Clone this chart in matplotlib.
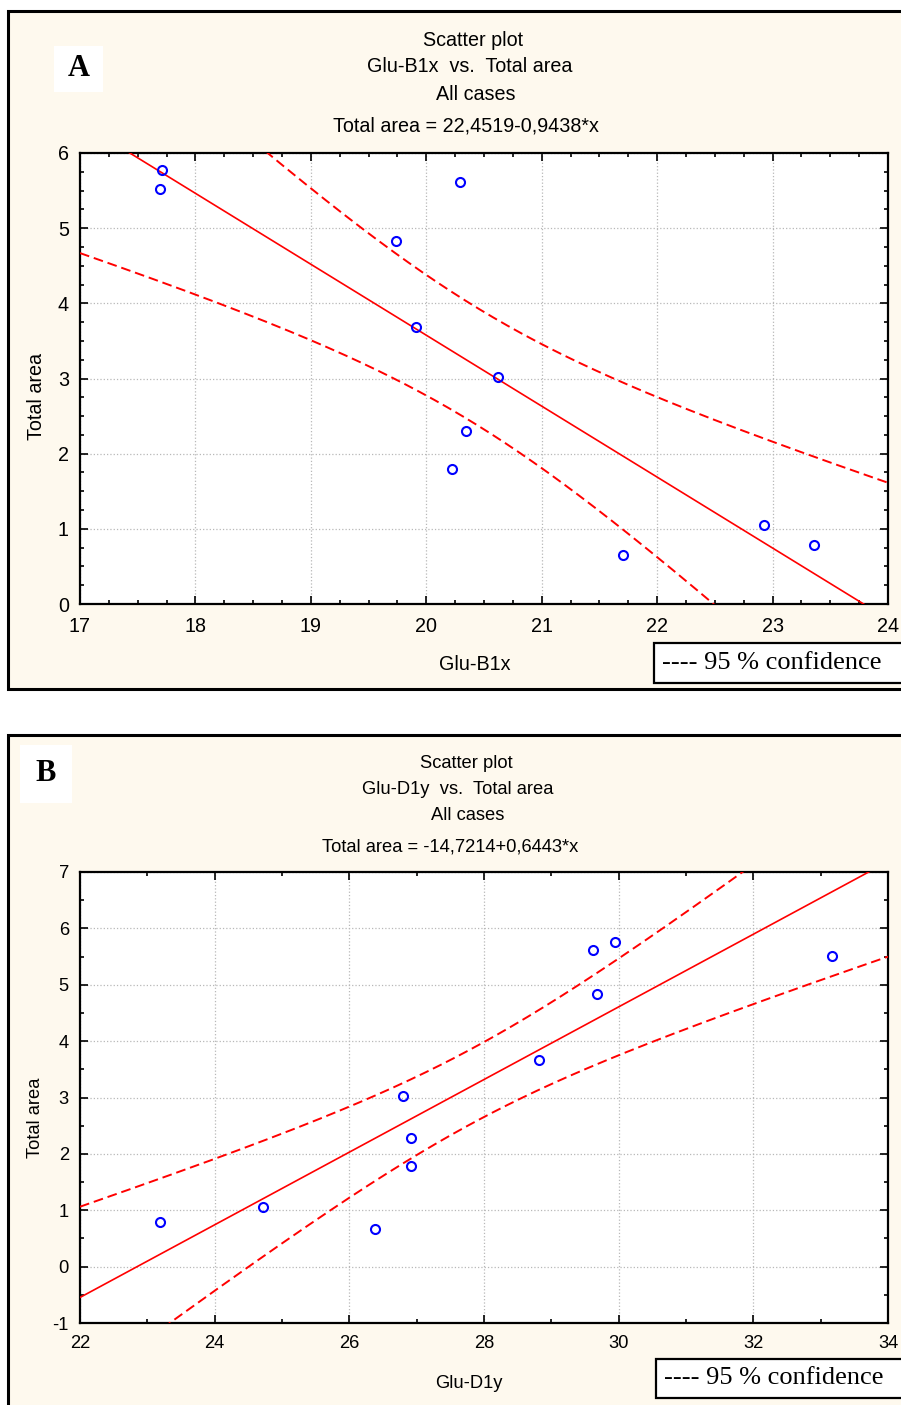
import numpy as np
import matplotlib
matplotlib.use("Agg")
import matplotlib.pyplot as plt
from matplotlib.patches import Rectangle
from matplotlib.ticker import MultipleLocator

plt.rcParams["axes.unicode_minus"] = False

# ---------------- data ----------------
a_x = [17.71, 17.69, 20.29, 19.74, 19.91, 20.62, 20.34, 20.22, 21.70, 22.93, 23.36]
a_y = [5.78, 5.52, 5.62, 4.83, 3.68, 3.02, 2.30, 1.80, 0.65, 1.05, 0.78]
a_coef = [22.4519, -0.9438]          # intercept, slope
a_xticks = [17, 18, 19, 20, 21, 22, 23, 24]
a_yticks = [0, 1, 2, 3, 4, 5, 6]
a_titles = ["Scatter plot", "Glu-B1x  vs.  Total area", "All cases",
            "Total area = 22,4519-0,9438*x"]
a_xlabel = "Glu-B1x"

b_x = [23.19, 24.72, 26.38, 26.80, 26.92, 26.92, 28.82, 29.62, 29.95, 29.68, 33.17]
b_y = [0.80, 1.05, 0.66, 3.03, 2.29, 1.79, 3.67, 5.62, 5.76, 4.84, 5.51]
b_coef = [-14.7214, 0.6443]
b_xticks = [22, 24, 26, 28, 30, 32, 34]
b_yticks = [-1, 0, 1, 2, 3, 4, 5, 6, 7]
b_titles = ["Scatter plot", "Glu-D1y  vs.  Total area", "All cases",
            "Total area = -14,7214+0,6443*x"]
b_xlabel = "Glu-D1y"

ylabel = "Total area"
legend_text = "---- 95 % confidence"
T975_DF9 = 2.262157

W, H = 901, 1405
SANS = ["Liberation Sans", "DejaVu Sans"]
SERIF = ["Liberation Serif", "DejaVu Serif"]
CREAM = "#fef9ee"

fig = plt.figure(figsize=(W / 100, H / 100), dpi=100)
fig.patch.set_facecolor("white")


def fx(x):
    return x / W


def fy(y):
    return 1 - y / H


def frame(x0, y0, x1, y1):
    fig.patches.append(Rectangle((fx(x0), fy(y1)), fx(x1) - fx(x0), fy(y0) - fy(y1),
                                 transform=fig.transFigure, facecolor=CREAM,
                                 edgecolor="black", linewidth=2.2, zorder=-2))


def panel(xs, ys, coef, xticks, yticks, xminor, yminor, titles, title_pos,
          ax_top, xlabel, xlab_pos, ylab_pos, letter, letter_box, legend_box, FS):
    lx0, ly0, lx1, ly1 = letter_box
    fig.patches.append(Rectangle((fx(lx0), fy(ly1)), fx(lx1) - fx(lx0), fy(ly0) - fy(ly1),
                                 transform=fig.transFigure, facecolor="white",
                                 edgecolor="none", zorder=-1))
    fig.text(fx((lx0 + lx1) / 2), fy((ly0 + ly1) / 2), letter, ha="center", va="center",
             fontsize=22, fontweight="bold", family=SERIF)
    for t, (tx, ty) in zip(titles, title_pos):
        fig.text(fx(tx), fy(ty), t, ha="center", va="center", fontsize=FS, family=SANS)

    ax = fig.add_axes([fx(80), fy(ax_top + 451), fx(888) - fx(80), 451 / H])
    ax.set_facecolor("white")
    xs = np.array(xs)
    ys = np.array(ys)
    b0, b1 = coef
    n = len(xs)
    resid = ys - (b0 + b1 * xs)
    s = np.sqrt(np.sum(resid ** 2) / (n - 2))
    xm = xs.mean()
    sxx = np.sum((xs - xm) ** 2)
    xx = np.linspace(xticks[0], xticks[-1], 400)
    yy = b0 + b1 * xx
    hw = T975_DF9 * s * np.sqrt(1 / n + (xx - xm) ** 2 / sxx)
    ax.plot(xx, yy, color="red", lw=1.2, zorder=3)
    ax.plot(xx, yy + hw, color="red", lw=1.4, ls=(0, (5, 2.5)), zorder=3)
    ax.plot(xx, yy - hw, color="red", lw=1.4, ls=(0, (5, 2.5)), zorder=3)
    ax.plot(xs, ys, "o", mfc="none", mec="#0000ff", mew=1.5, ms=6.5, zorder=4)

    ax.set_xlim(xticks[0], xticks[-1])
    ax.set_ylim(yticks[0], yticks[-1])
    ax.set_xticks(xticks)
    ax.set_yticks(yticks)
    ax.xaxis.set_minor_locator(MultipleLocator(xminor))
    ax.yaxis.set_minor_locator(MultipleLocator(yminor))
    ax.tick_params(which="both", direction="in", top=True, right=True, width=1.2,
                   colors="black")
    ax.tick_params(which="major", length=5.5)
    ax.tick_params(which="minor", length=3)
    ax.tick_params(axis="x", which="major", pad=9, labelsize=FS)
    ax.tick_params(axis="y", which="major", pad=8, labelsize=FS)
    for lab in ax.get_xticklabels() + ax.get_yticklabels():
        lab.set_family(SANS)
    for sp in ax.spines.values():
        sp.set_linewidth(1.6)
    ax.grid(True, which="major", color="#b8b8b8", ls=":", lw=0.9, zorder=0)
    ax.set_axisbelow(True)

    ax.set_xlabel(xlabel, fontsize=FS, family=SANS, va="center")
    ax.xaxis.set_label_coords(*xlab_pos)
    ax.set_ylabel(ylabel, fontsize=FS, family=SANS, va="center")
    ax.yaxis.set_label_coords(*ylab_pos)

    gx0, gy0, gx1, gy1 = legend_box
    fig.patches.append(Rectangle((fx(gx0), fy(gy1)), fx(gx1) - fx(gx0), fy(gy0) - fy(gy1),
                                 transform=fig.transFigure, facecolor="white",
                                 edgecolor="black", linewidth=1.6, zorder=2))
    fig.text(fx(gx0 + 8), fy((gy0 + gy1) / 2), legend_text, ha="left", va="center",
             fontsize=19, family=SERIF, zorder=3)
    return ax


frame(8, 11, 920, 689)
frame(8, 735, 920, 1420)

panel(a_x, a_y, a_coef, a_xticks, a_yticks, 0.25, 0.25, a_titles,
      [(473, 40), (470, 67), (476, 94), (466, 126)], 153, a_xlabel,
      ((475 - 80) / 808, (604 - 664) / 451), ((37 - 80) / 808, (604 - 397) / 451),
      "A", (54, 46, 103, 92), (654, 643, 920, 683), 14.2)

panel(b_x, b_y, b_coef, b_xticks, b_yticks, 1, 0.5, b_titles,
      [(466, 763), (458, 789), (468, 815), (450, 847)], 872, b_xlabel,
      ((469 - 80) / 808, (1323 - 1383) / 451), ((35 - 80) / 808, (1323 - 1118) / 451),
      "B", (20, 745, 72, 803), (656, 1359, 920, 1398), 13.2)

fig.savefig("out.png", dpi=100, facecolor="white")
